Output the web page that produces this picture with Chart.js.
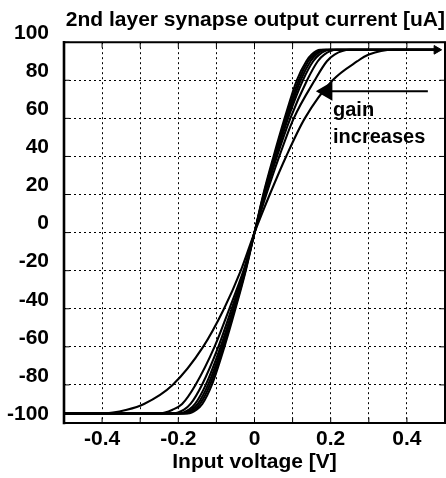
<!DOCTYPE html>
<html>
<head>
<meta charset="utf-8">
<script src="https://cdn.jsdelivr.net/npm/chart.js@4.4.1/dist/chart.umd.min.js"></script>
<style>
  html, body { margin: 0; padding: 0; background: #fff; }
  #myChart { display: block; }
</style>
</head>
<body>
<canvas id="myChart" width="446" height="478"></canvas>
<script>
const levels = [-95, -93, -90, -80, -60, -40, -20, 0, 20, 40, 60, 80, 90, 93.5, 96];
const gain1 = [-0.40, -0.335, -0.29, -0.215, -0.135, -0.08, -0.036, 0, 0.04, 0.083, 0.132, 0.205, 0.27, 0.30, 0.365];
const gain2 = [-0.25, -0.215, -0.19, -0.155, -0.105, -0.066, -0.029, 0, 0.031, 0.065, 0.103, 0.158, 0.19, 0.21, 0.25];
const gain3 = [-0.215, -0.185, -0.168, -0.138, -0.095, -0.06, -0.027, 0, 0.028, 0.059, 0.094, 0.138, 0.166, 0.183, 0.215];
const gain4 = [-0.20, -0.172, -0.156, -0.128, -0.089, -0.056, -0.026, 0, 0.026, 0.056, 0.088, 0.127, 0.154, 0.17, 0.198];
const gain5 = [-0.19, -0.165, -0.149, -0.122, -0.085, -0.054, -0.025, 0, 0.025, 0.054, 0.085, 0.121, 0.147, 0.162, 0.188];
const gain6 = [-0.182, -0.158, -0.143, -0.117, -0.082, -0.052, -0.024, 0, 0.024, 0.052, 0.082, 0.116, 0.141, 0.156, 0.18];
const gain7 = [-0.175, -0.152, -0.137, -0.112, -0.079, -0.05, -0.023, 0, 0.023, 0.05, 0.079, 0.111, 0.136, 0.15, 0.172];
const curves = [gain1, gain2, gain3, gain4, gain5, gain6, gain7];

// flat saturation lines run from the left edge to the arrow on the right
const flatStart = -0.5;
const flatEnd = 0.478;

// "gain increases" arrow: tail and tip in data units
const gainArrowX = [0.455, 0.19];
const gainArrowY = 74.3;
const gainTextX = 0.206;
const gainTextY = [61.3, 47.1];
const gainText = ["gain", "increases"];

const xLabelValues = [-0.4, -0.2, 0, 0.2, 0.4];
const xLabels = ["-0.4", "-0.2", "0", "0.2", "0.4"];

const FONT = '"Liberation Sans", Arial, sans-serif';

function curvePoints(xs) {
    const pts = [{ x: flatStart, y: levels[0] }];
    xs.forEach((x, i) => pts.push({ x: x, y: levels[i] }));
    pts.push({ x: flatEnd, y: levels[levels.length - 1] });
    return pts;
}

const datasets = curves.map((xs) => ({
    data: curvePoints(xs),
    borderColor: "#000",
    borderWidth: 2.1,
    pointRadius: 0,
    cubicInterpolationMode: "monotone",
    fill: false,
}));

// arrow head at the end of the top saturation line
datasets.push({
    data: [{ x: flatEnd, y: levels[levels.length - 1] }],
    showLine: false,
    pointStyle: "triangle",
    rotation: 90,
    pointRadius: 5,
    backgroundColor: "#000",
    borderColor: "#000",
    borderWidth: 1,
    clip: false,
});

// annotation arrow
datasets.push({
    data: [{ x: gainArrowX[0], y: gainArrowY }, { x: gainArrowX[1], y: gainArrowY }],
    borderColor: "#000",
    borderWidth: 2,
    pointRadius: [0, 9],
    pointStyle: "triangle",
    rotation: -90,
    backgroundColor: "#000",
    pointBorderColor: "#000",
    clip: false,
});

const frame = {
    id: "frame",
    afterDatasetsDraw(chart) {
        const { ctx, chartArea: a, scales } = chart;
        ctx.save();
        ctx.strokeStyle = "#000";
        ctx.lineCap = "square";
        // inward tick marks
        ctx.lineWidth = 1;
        scales.x.ticks.forEach((t) => {
            const px = scales.x.getPixelForValue(t.value);
            ctx.beginPath();
            ctx.moveTo(px, a.bottom); ctx.lineTo(px, a.bottom - 5);
            ctx.moveTo(px, a.top); ctx.lineTo(px, a.top + 5);
            ctx.stroke();
        });
        scales.y.ticks.forEach((t) => {
            const py = scales.y.getPixelForValue(t.value);
            ctx.beginPath();
            ctx.moveTo(a.left, py); ctx.lineTo(a.left + 5, py);
            ctx.moveTo(a.right, py); ctx.lineTo(a.right - 5, py);
            ctx.stroke();
        });
        // box
        ctx.lineWidth = 2;
        ctx.beginPath();
        ctx.moveTo(a.left, a.top); ctx.lineTo(a.right, a.top);
        ctx.moveTo(a.left, a.bottom); ctx.lineTo(a.right, a.bottom);
        ctx.moveTo(a.right, a.top); ctx.lineTo(a.right, a.bottom);
        ctx.stroke();
        ctx.lineWidth = 2.6;
        ctx.beginPath();
        ctx.moveTo(a.left, a.top); ctx.lineTo(a.left, a.bottom);
        ctx.stroke();
        // annotation text
        ctx.fillStyle = "#000";
        ctx.font = "bold 20px " + FONT;
        ctx.textAlign = "left";
        ctx.textBaseline = "alphabetic";
        gainText.forEach((s, i) => {
            ctx.fillText(s, scales.x.getPixelForValue(gainTextX), scales.y.getPixelForValue(gainTextY[i]));
        });
        ctx.restore();
    },
};

let ctx = document.getElementById("myChart").getContext("2d");
let myChart = new Chart(ctx, {
    type: "scatter",
    data: { datasets: datasets },
    options: {
        responsive: false,
        animation: false,
        devicePixelRatio: 1,
        showLine: true,
        layout: { autoPadding: false, padding: { left: 0, right: 1, top: 0, bottom: 0 } },
        plugins: {
            legend: { display: false },
            tooltip: { enabled: false },
            title: {
                display: true,
                text: "2nd layer synapse output current [uA]",
                align: "end",
                color: "#000",
                font: { family: FONT, size: 21, weight: "bold" },
                padding: { top: 8, bottom: 9 },
            },
        },
        scales: {
            x: {
                type: "linear",
                min: -0.5,
                max: 0.5,
                afterFit(scale) {
                    scale.height = 55;
                    scale.paddingLeft = 0;
                    scale.paddingRight = 0;
                },
                ticks: {
                    stepSize: 0.1,
                    padding: 4,
                    color: "#000",
                    maxRotation: 0,
                    autoSkip: false,
                    font: { family: FONT, size: 21, weight: "bold" },
                    callback(value) {
                        const i = xLabelValues.findIndex((v) => Math.abs(v - value) < 1e-6);
                        return i >= 0 ? xLabels[i] : "";
                    },
                },
                grid: { color: "#000", lineWidth: 1, drawTicks: false },
                border: { display: false, dash: [2, 3] },
                title: {
                    display: true,
                    text: "Input voltage [V]",
                    color: "#000",
                    font: { family: FONT, size: 21, weight: "bold" },
                    padding: { top: 0, bottom: 3 },
                },
            },
            y: {
                type: "linear",
                min: -100,
                max: 100,
                afterFit(scale) {
                    scale.width = 64;
                    scale.paddingTop = 0;
                    scale.paddingBottom = 0;
                },
                ticks: {
                    stepSize: 20,
                    padding: 15,
                    labelOffset: -9,
                    color: "#000",
                    autoSkip: false,
                    font: { family: FONT, size: 21, weight: "bold" },
                    callback(value) { return String(value); },
                },
                grid: { color: "#000", lineWidth: 1, drawTicks: false },
                border: { display: false, dash: [2, 3] },
            },
        },
    },
    plugins: [frame],
});
</script>
</body>
</html>
